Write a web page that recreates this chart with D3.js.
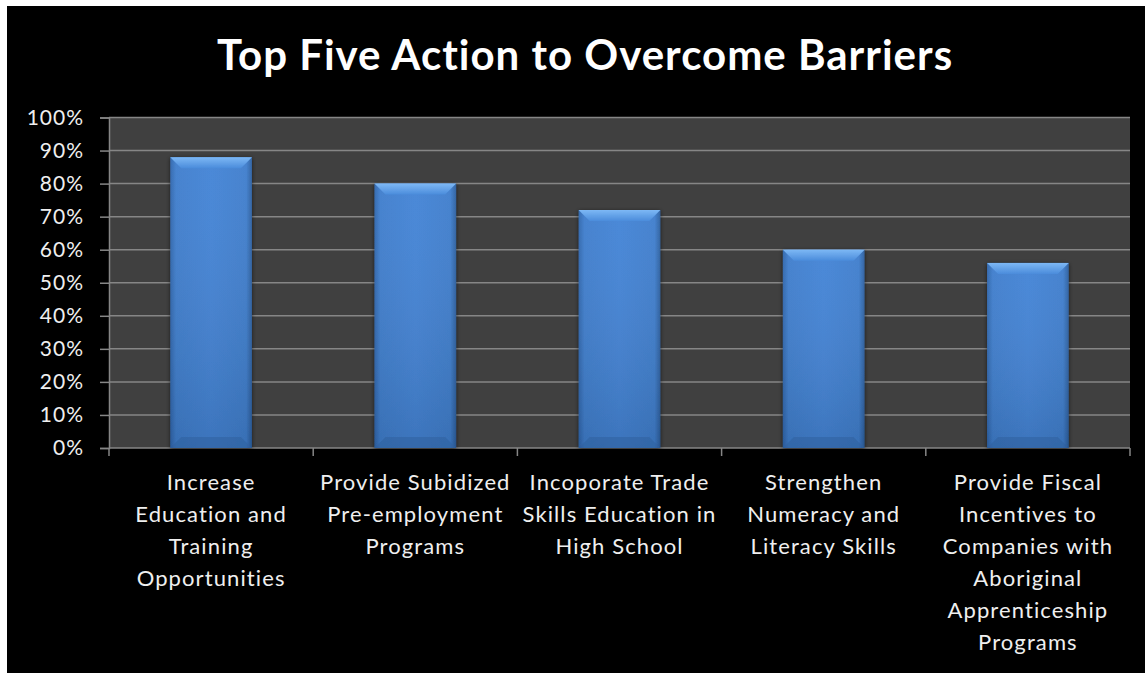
<!DOCTYPE html>
<html>
<head>
<meta charset="utf-8">
<script src="https://cdn.jsdelivr.net/npm/d3@7"></script>
<style>
  html, body { margin: 0; padding: 0; background: #ffffff; }
  svg { display: block; }
  text { font-variant-ligatures: none; }
</style>
</head>
<body>
<svg id="chart" width="1145" height="673"></svg>
<script>
// Survey results: share of respondents choosing each action
const categories = [
  "Increase Education and Training Opportunities",
  "Provide Subidized Pre-employment Programs",
  "Incoporate Trade Skills Education in High School",
  "Strengthen Numeracy and Literacy Skills",
  "Provide Fiscal Incentives to Companies with Aboriginal Apprenticeship Programs"
];
// Wrapped label lines for each category
const labelLines = [
  ["Increase", "Education and", "Training", "Opportunities"],
  ["Provide Subidized", "Pre-employment", "Programs"],
  ["Incoporate Trade", "Skills Education in", "High School"],
  ["Strengthen", "Numeracy and", "Literacy Skills"],
  ["Provide Fiscal", "Incentives to", "Companies with", "Aboriginal", "Apprenticeship", "Programs"]
];
const values = [0.88, 0.80, 0.72, 0.60, 0.56];
const yTicks = [0, 0.1, 0.2, 0.3, 0.4, 0.5, 0.6, 0.7, 0.8, 0.9, 1.0];
const titleText = "Top Five Action to Overcome Barriers";

const svg = d3.select("#chart");
const W = 1145, H = 673;
const plot = { left: 109, right: 1130, top: 117.5, bottom: 448 };
const font = "Lato, 'Open Sans', sans-serif";

// black slide background
svg.append("rect").attr("x", 7).attr("y", 6).attr("width", W - 7).attr("height", H - 6).attr("fill", "#000");

const x = d3.scaleBand().domain(categories).range([plot.left, plot.right]).paddingInner(0.6).paddingOuter(0.3);
const y = d3.scaleLinear().domain([0, 1]).range([plot.bottom, plot.top]);

const defs = svg.append("defs");
const side = defs.append("linearGradient").attr("id", "barSide").attr("x1", 0).attr("x2", 1).attr("y1", 0).attr("y2", 0);
side.append("stop").attr("offset", "0%").attr("stop-color", "#2f66ad");
side.append("stop").attr("offset", "7%").attr("stop-color", "#3f7ecd");
side.append("stop").attr("offset", "50%").attr("stop-color", "#4484d6");
side.append("stop").attr("offset", "93%").attr("stop-color", "#3f7ecd");
side.append("stop").attr("offset", "100%").attr("stop-color", "#2c5f9f");
const vert = defs.append("linearGradient").attr("id", "barVert").attr("x1", 0).attr("x2", 0).attr("y1", 0).attr("y2", 1);
vert.append("stop").attr("offset", "0%").attr("stop-color", "#ffffff").attr("stop-opacity", 0.04);
vert.append("stop").attr("offset", "100%").attr("stop-color", "#000000").attr("stop-opacity", 0.12);
const topG = defs.append("linearGradient").attr("id", "barTop").attr("x1", 0).attr("x2", 0).attr("y1", 0).attr("y2", 1);
topG.append("stop").attr("offset", "0%").attr("stop-color", "#7db8f5");
topG.append("stop").attr("offset", "100%").attr("stop-color", "#4b8cdb");
const shadow = defs.append("filter").attr("id", "shadow").attr("x", "-20%").attr("y", "-10%").attr("width", "140%").attr("height", "120%");
shadow.append("feGaussianBlur").attr("in", "SourceAlpha").attr("stdDeviation", 2).attr("result", "b");
shadow.append("feOffset").attr("in", "b").attr("dx", 0).attr("dy", 1).attr("result", "o");
shadow.append("feComponentTransfer").attr("in", "o").attr("result", "s")
  .append("feFuncA").attr("type", "linear").attr("slope", 0.6);
const merge = shadow.append("feMerge");
merge.append("feMergeNode").attr("in", "s");
merge.append("feMergeNode").attr("in", "SourceGraphic");

// plot area
svg.append("rect").attr("x", plot.left).attr("y", plot.top)
  .attr("width", plot.right - plot.left).attr("height", plot.bottom - plot.top).attr("fill", "#404040");

// gridlines
svg.append("g").selectAll("line").data(yTicks.filter(d => d > 0)).join("line")
  .attr("x1", plot.left).attr("x2", plot.right)
  .attr("y1", d => y(d)).attr("y2", d => y(d))
  .attr("stroke", "#868686").attr("stroke-width", 1.5);

// y axis
const yAxis = svg.append("g").attr("transform", `translate(${plot.left},0)`)
  .call(d3.axisLeft(y).tickValues(yTicks).tickFormat(d3.format(".0%")).tickSize(9).tickPadding(16));
yAxis.select(".domain").attr("stroke", "#868686").attr("stroke-width", 1.5);
yAxis.selectAll(".tick line").attr("stroke", "#868686").attr("stroke-width", 1.5);
yAxis.selectAll("text").attr("fill", "#efefef").attr("font-family", font)
  .attr("font-size", 21).attr("letter-spacing", 1);

// x axis baseline
const xAxis = svg.append("g").attr("transform", `translate(0,${plot.bottom})`)
  .call(d3.axisBottom(x).tickSize(0).tickFormat(""));
xAxis.select(".domain").attr("stroke", "#868686").attr("stroke-width", 1.5)
  .attr("d", `M${plot.left},0H${plot.right}`);
// category separator ticks
svg.append("g").selectAll("line").data(d3.range(categories.length + 1)).join("line")
  .attr("x1", i => plot.left + i * x.step()).attr("x2", i => plot.left + i * x.step())
  .attr("y1", plot.bottom).attr("y2", plot.bottom + 8)
  .attr("stroke", "#868686").attr("stroke-width", 1.5);

// bars
const bars = svg.append("g").selectAll("g").data(values).join("g")
  .attr("filter", "url(#shadow)");
bars.append("rect")
  .attr("x", (d, i) => x(categories[i])).attr("width", x.bandwidth())
  .attr("y", d => y(d)).attr("height", d => y(0) - y(d))
  .attr("fill", "url(#barSide)");
bars.append("rect")
  .attr("x", (d, i) => x(categories[i])).attr("width", x.bandwidth())
  .attr("y", d => y(d)).attr("height", d => y(0) - y(d))
  .attr("fill", "url(#barVert)");
// top bevel
const bev = 11;
bars.append("path")
  .attr("d", (d, i) => {
    const x0 = x(categories[i]), x1 = x0 + x.bandwidth(), t = y(d);
    return `M${x0},${t}H${x1}L${x1 - bev},${t + bev}H${x0 + bev}Z`;
  })
  .attr("fill", "url(#barTop)");
// bottom bevel
bars.append("path")
  .attr("d", (d, i) => {
    const x0 = x(categories[i]), x1 = x0 + x.bandwidth(), b = y(0);
    return `M${x0},${b}H${x1}L${x1 - bev},${b - bev}H${x0 + bev}Z`;
  })
  .attr("fill", "#2f619f").attr("opacity", 0.55);

// category labels
const lab = svg.append("g").attr("font-family", font).attr("font-size", 22)
  .attr("letter-spacing", 1.1).attr("fill", "#efefef").attr("text-anchor", "middle");
labelLines.forEach((lines, i) => {
  const cx = x(categories[i]) + x.bandwidth() / 2;
  const t = lab.append("text").attr("x", cx).attr("y", 490);
  lines.forEach((ln, j) => t.append("tspan").attr("x", cx)
    .attr("dy", j === 0 ? 0 : 32).text(ln));
});

// title
svg.append("text").attr("x", 585).attr("y", 70).attr("text-anchor", "middle")
  .attr("font-family", font).attr("font-weight", "bold").attr("letter-spacing", 1)
  .attr("font-size", 42).attr("fill", "#ffffff").text(titleText);
</script>
</body>
</html>
